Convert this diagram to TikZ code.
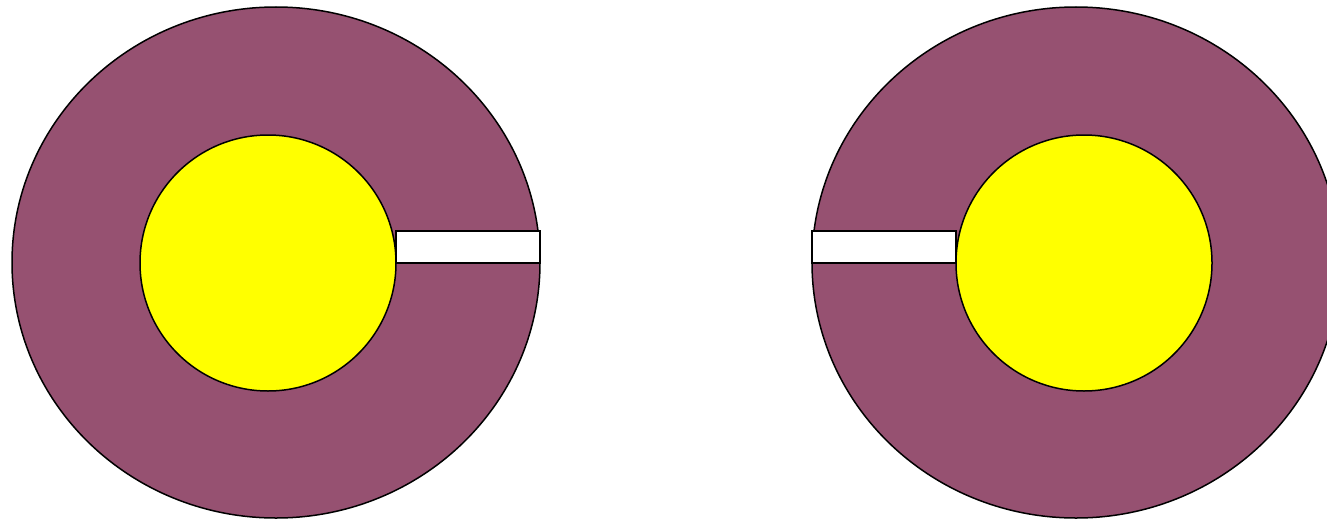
\documentclass[tikz,border=0pt]{standalone}
\definecolor{plum}{RGB}{150,81,113}
\definecolor{sun}{RGB}{255,255,0}
\tikzset{
  outer/.style={fill=plum,draw=black,line width=1.5pt},
  inner/.style={fill=sun,draw=black,line width=1.5pt},
  slot/.style={fill=white,draw=black,line width=1.5pt}
}
\begin{document}
\begin{tikzpicture}[x=1pt,y=-1pt]
\useasboundingbox (0,0) rectangle (1327,519);
% left
\draw[outer] (276,262.5) ellipse [x radius=264, y radius=255.5];
\draw[inner] (268,263) circle [radius=128];
\draw[slot] (396,231) rectangle (540,263);
% right
\draw[outer] (1076,262.5) ellipse [x radius=264, y radius=255.5];
\draw[inner] (1084,263) circle [radius=128];
\draw[slot] (812,231) rectangle (956,263);
\end{tikzpicture}
\end{document}
